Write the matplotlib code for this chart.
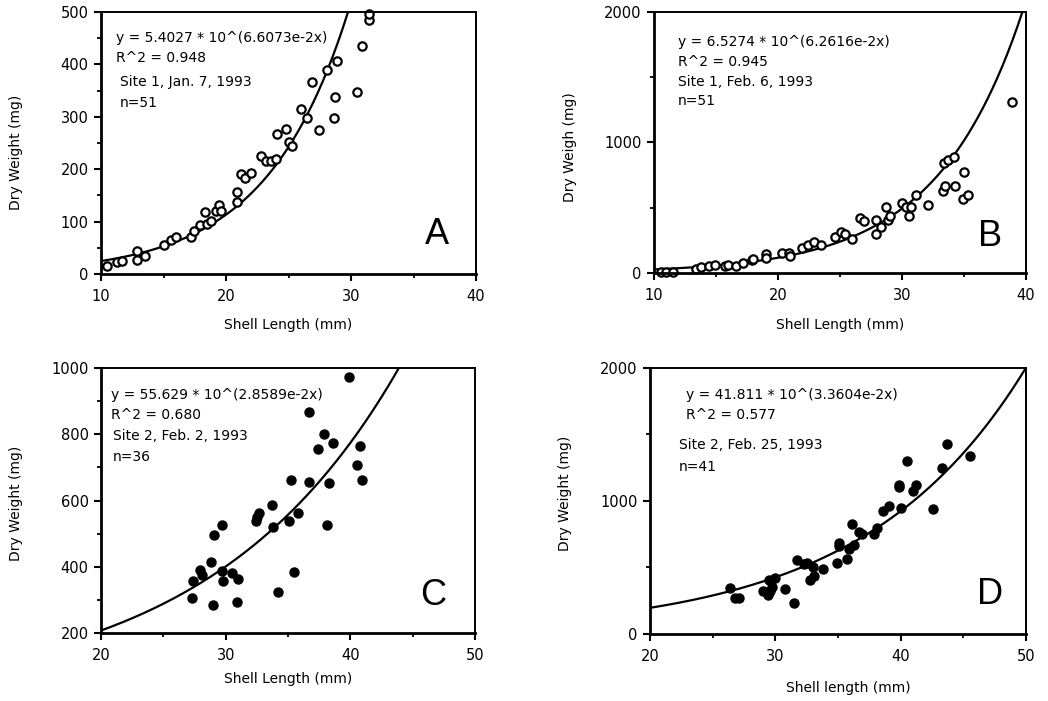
import numpy as np
import matplotlib
matplotlib.use("Agg")
import matplotlib.pyplot as plt
from matplotlib.ticker import MultipleLocator

plt.rcParams['font.family'] = ['DejaVu Sans']

# Panel A - Site 1, Jan. 7, 1993 (open circles)
a_len = [10.5, 11.3, 11.7, 12.9, 12.9, 13.5, 15.0, 15.6, 16.0, 17.2, 17.4, 17.9,
         18.3, 18.5, 18.8, 19.2, 19.4, 19.6, 20.9, 20.9, 21.2, 21.5, 22.0, 22.8,
         23.2, 23.6, 24.0, 24.1, 24.8, 25.0, 25.3, 26.0, 26.5, 27.4, 26.9, 28.1,
         28.9, 28.7, 28.6, 30.5, 30.9, 31.4, 31.4]
a_wt = [16, 23, 24, 44, 26, 35, 55, 64, 70, 70, 82, 93,
        119, 96, 102, 121, 131, 121, 138, 157, 190, 183, 193, 225,
        216, 216, 219, 268, 276, 252, 245, 315, 298, 275, 367, 390,
        406, 338, 298, 348, 435, 485, 497]

# Panel B - Site 1, Feb. 6, 1993 (open circles)
b_len = [10.6, 11.0, 11.5, 13.4, 13.8, 14.4, 14.9, 15.7, 16.0, 16.6, 17.2, 17.9,
         18.0, 19.0, 19.0, 20.3, 20.9, 21.0, 21.9, 22.4, 22.9, 23.5, 24.6, 25.1,
         25.4, 26.0, 26.6, 26.9, 27.9, 27.9, 28.3, 28.7, 28.9, 29.0, 30.0, 30.3,
         30.6, 30.7, 31.1, 32.1, 33.3, 33.5, 33.4, 33.7, 34.2, 34.3, 35.0, 34.9,
         35.3, 38.9]
b_wt = [10, 10, 10, 28, 45, 50, 62, 50, 60, 55, 75, 100,
        105, 145, 115, 155, 150, 130, 190, 215, 237, 215, 275, 315,
        295, 262, 420, 400, 405, 300, 350, 505, 405, 440, 535, 505,
        440, 505, 595, 520, 630, 665, 840, 865, 890, 670, 775, 570,
        595, 1310]

# Panel C - Site 2, Feb. 2, 1993 (filled circles)
c_len = [27.3, 27.4, 27.9, 28.1, 28.8, 29.0, 29.1, 29.7, 29.7, 29.8, 30.5, 31.0,
         30.9, 32.4, 32.7, 32.5, 33.7, 33.8, 34.2, 35.1, 35.2, 35.5, 35.8, 36.7,
         36.7, 37.4, 37.9, 38.1, 38.3, 38.6, 39.9, 40.5, 40.8, 40.9]
c_wt = [305, 358, 390, 375, 415, 285, 497, 527, 388, 356, 381, 362,
        295, 537, 563, 550, 585, 520, 325, 537, 662, 383, 562, 868,
        657, 755, 800, 527, 652, 775, 972, 708, 765, 663]

# Panel D - Site 2, Feb. 25, 1993 (filled circles)
d_len = [26.4, 26.8, 27.1, 29.0, 29.4, 29.5, 29.7, 29.6, 30.0, 30.8, 31.5, 31.7,
         32.3, 32.5, 33.0, 32.8, 33.1, 33.8, 34.9, 35.1, 35.1, 35.7, 35.9, 36.3,
         36.1, 36.7, 36.9, 37.9, 38.1, 38.6, 39.1, 40.0, 39.9, 39.9, 40.5, 41.0,
         41.2, 42.6, 43.3, 43.7, 45.5]
d_wt = [348, 270, 270, 325, 295, 405, 350, 325, 420, 335, 230, 555,
        525, 535, 500, 405, 436, 490, 530, 685, 665, 565, 640, 670,
        830, 770, 750, 755, 797, 922, 962, 950, 1103, 1118, 1298, 1073,
        1123, 937, 1248, 1429, 1338]

# fitted curves, coefficients as printed: y = a * 10^(b*x)
fit_a = [5.4027, 6.5274, 55.629, 41.811]
fit_b = [6.6073e-2, 6.2616e-2, 2.8589e-2, 3.3604e-2]

eq_text = ["y = 5.4027 * 10^(6.6073e-2x)", "y = 6.5274 * 10^(6.2616e-2x)",
           "y = 55.629 * 10^(2.8589e-2x)", "y = 41.811 * 10^(3.3604e-2x)"]
r2_text = ["R^2 = 0.948", "R^2 = 0.945", "R^2 = 0.680", "R^2 = 0.577"]
site_text = ["Site 1, Jan. 7, 1993", "Site 1, Feb. 6, 1993",
             "Site 2, Feb. 2, 1993", "Site 2, Feb. 25, 1993"]
n_text = ["n=51", "n=51", "n=36", "n=41"]
letters = ["A", "B", "C", "D"]
xlabels = ["Shell Length (mm)", "Shell Length (mm)", "Shell Length (mm)", "Shell length (mm)"]
ylabels = ["Dry Weight (mg)", "Dry Weigh (mg)", "Dry Weight (mg)", "Dry Weight (mg)"]

fig = plt.figure(figsize=(10.48, 7.01), dpi=100)

rects = [[0.0964, 0.6091, 0.3578, 0.3738],
         [0.6240, 0.6106, 0.3550, 0.3723],
         [0.0964, 0.0970, 0.3569, 0.3780],
         [0.6202, 0.0956, 0.3588, 0.3795]]
xlims = [(10, 40), (10, 40), (20, 50), (20, 50)]
ylims = [(0, 500), (0, 2000), (200, 1000), (0, 2000)]
ymaj = [100, 1000, 200, 1000]
ymin = [50, 500, 100, 500]
data = [(a_len, a_wt), (b_len, b_wt), (c_len, c_wt), (d_len, d_wt)]
filled = [False, False, True, True]

# text placement (axes fractions)
eq_pos = [(0.040, 0.900, 0.824), (0.065, 0.885, 0.808),
          (0.027, 0.898, 0.823), (0.096, 0.898, 0.823)]
site_pos = [(0.051, 0.733, 0.653), (0.065, 0.732, 0.659),
            (0.032, 0.743, 0.664), (0.077, 0.711, 0.628)]
letter_pos = [(0.896, 0.149), (0.903, 0.138), (0.888, 0.143), (0.904, 0.147)]
xlab_pos = [(0.5, -0.168), (0.5, -0.172), (0.5, -0.147), (0.527, -0.177)]
ylab_y = [0.466, 0.483, 0.49, 0.53]

for i in range(4):
    ax = fig.add_axes(rects[i])
    x, y = data[i]
    xs = np.linspace(xlims[i][0], xlims[i][1], 300)
    ax.plot(xs, fit_a[i] * 10 ** (fit_b[i] * xs), color='black', lw=1.6)
    if filled[i]:
        ax.plot(x, y, 'o', ms=6.5, color='black', clip_on=False)
    else:
        ax.plot(x, y, 'o', ms=6, mfc='white', mec='black', mew=1.6, clip_on=False)

    ax.set_xlim(*xlims[i])
    ax.set_ylim(*ylims[i])
    ax.xaxis.set_major_locator(MultipleLocator(10))
    ax.xaxis.set_minor_locator(MultipleLocator(5))
    ax.yaxis.set_major_locator(MultipleLocator(ymaj[i]))
    ax.yaxis.set_minor_locator(MultipleLocator(ymin[i]))
    ax.tick_params(which='major', direction='out', length=5, width=1.5, labelsize=10.5, pad=4)
    ax.tick_params(axis='x', which='major', pad=6)
    ax.tick_params(which='minor', direction='out', length=3, width=1.3)
    for s in ['left', 'bottom']:
        ax.spines[s].set_linewidth(2.0)
    for s in ['top', 'right']:
        ax.spines[s].set_linewidth(1.4)

    ax.set_xlabel(xlabels[i], fontsize=10)
    ax.set_ylabel(ylabels[i], fontsize=10)
    ax.xaxis.set_label_coords(*xlab_pos[i])
    ax.yaxis.set_label_coords(-0.208, ylab_y[i])

    ex, ey1, ey2 = eq_pos[i]
    ax.text(ex, ey1, eq_text[i], transform=ax.transAxes, fontsize=10, va='center')
    ax.text(ex, ey2, r2_text[i], transform=ax.transAxes, fontsize=10, va='center')
    sx, sy1, sy2 = site_pos[i]
    ax.text(sx, sy1, site_text[i], transform=ax.transAxes, fontsize=10, va='center')
    ax.text(sx, sy2, n_text[i], transform=ax.transAxes, fontsize=10, va='center')
    lx, ly = letter_pos[i]
    ax.text(lx, ly, letters[i], transform=ax.transAxes, fontsize=26,
            ha='center', va='center', family='Liberation Sans')

fig.savefig("out.png", dpi=100)
